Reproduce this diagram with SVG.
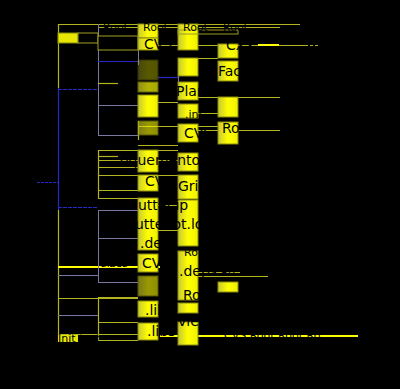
<svg xmlns="http://www.w3.org/2000/svg" width="400" height="389" viewBox="0 0 400 389">
<defs>
<linearGradient id="yg" x1="0" y1="0" x2="1" y2="0"><stop offset="0" stop-color="#c8c832"/><stop offset="0.5" stop-color="#ffff00"/><stop offset="1" stop-color="#f0f000"/></linearGradient>
<style>
.n{fill:url(#yg);stroke:#8a8a10;stroke-width:1}
.o{fill:none;stroke:#9a9a20;stroke-width:1}
.k{fill:#000;stroke:#a0a020;stroke-width:1}
.y{stroke:#b4b41e;stroke-width:1.2;fill:none}
.yb{stroke:#ffff00;stroke-width:2;fill:none}
.b{stroke:#2828c8;stroke-width:1.2;fill:none}
.g{stroke:#7878a0;stroke-width:1;fill:none}
.t{font-family:"DejaVu Sans",sans-serif;fill:#000;font-size:14px}
.s{font-family:"DejaVu Sans",sans-serif;fill:#000;font-size:11px}
</style>
</defs>
<rect width="400" height="389" fill="#000"/>
<g id="connectors">
<path class="b" d="M37 182.5H58" stroke-dasharray="3 1"/>
<path class="y" d="M58.5 24V88"/>
<path class="b" d="M58.5 88V210"/>
<path class="y" d="M58.5 210V342"/>
<path class="y" d="M58 24.5H300"/>
<path class="y" d="M98 27.5H280"/>
<path class="b" d="M58 89.5H98" stroke-dasharray="4 1"/>
<path class="b" d="M58 207.5H98" stroke-dasharray="4 1"/>
<path class="yb" d="M58 267H160"/>
<path class="g" d="M58 275.5H98"/>
<path class="y" d="M58 298.5H138"/>
<path class="g" d="M58 315.5H98"/>
<path class="y" d="M58 334.5H138"/>
<path class="g" d="M98.5 24V136"/>
<path class="y" d="M98.5 150V198"/>
<path class="g" d="M98.5 210V282"/>
<path class="y" d="M98.5 297V340"/>
<path class="b" d="M98 61.5H138"/>
<path class="y" d="M98 83.5H118"/>
<path class="g" d="M98 105.5H138"/>
<path class="g" d="M98 135.5H138"/>
<path class="y" d="M98 150.5H178"/>
<path class="y" d="M98 156.5H118"/>
<path class="y" d="M98 160.5H178"/>
<path class="y" d="M98 167.5H138"/>
<path class="y" d="M98 175.5H178"/>
<path class="y" d="M98 190.5H138"/>
<path class="y" d="M98 198.5H138"/>
<path class="g" d="M98 210.5H138"/>
<path class="g" d="M98 238.5H138"/>
<path class="g" d="M98 282.5H138"/>
<path class="y" d="M98 297.5H138"/>
<path class="y" d="M98 322.5H138"/>
<path class="y" d="M98 340.5H138"/>
<path class="g" d="M138.5 40V65"/>
<path class="y" d="M138.5 95V116"/>
<path class="y" d="M138.5 121V140"/>
<path class="y" d="M138 102.5H178"/>
<path class="y" d="M138 126.5H220"/>
<path class="y" d="M138 145.5H178"/>
<path class="y" d="M138 45.5H305"/>
<path class="y" d="M305 45.5H318" stroke-dasharray="3 2"/>
<path class="yb" d="M258 45H279"/>
<path class="b" d="M158 77.5H178"/>
<path class="y" d="M178 97.5H280"/>
<path class="y" d="M178 130.5H280"/>
<path class="y" d="M138 205.5H178"/>
<path class="y" d="M138 230.5H178"/>
<path class="y" d="M178 272.5H240"/>
<path class="y" d="M178 276.5H268"/>
<path class="yb" d="M160 336H358" stroke-width="1.5"/>
<path class="g" d="M178.5 60V90"/>
<path class="y" d="M178 113.5H218"/>
<path class="y" d="M178 58.5H218"/>
</g>
<g id="root"><rect x="58" y="33" width="20" height="10" fill="#e6e600" stroke="#8a8a10"/><rect x="78" y="33" width="20" height="10" class="k"/></g>
<g id="n-cvs1"><rect x="98" y="36" width="40" height="14" class="k"/><text class="t" x="104" y="49">CVS</text></g>
<g id="n-col3-1"><rect x="138" y="24" width="20" height="14" class="n"/><rect x="138" y="38" width="20" height="12" class="n"/><text class="t" x="144" y="49">CVS</text></g>
<g id="n-col4-1"><rect x="178" y="24" width="20" height="26" class="n"/><rect x="178" y="30" width="60" height="4" class="o"/></g>
<g id="n-root-labels"><text class="s" x="103" y="31">Root</text><text class="s" x="143" y="31">Root</text><text class="s" x="183" y="31">Root</text><text class="s" x="223" y="31">Root</text></g>
<g id="n-cxx"><rect x="218" y="44" width="20" height="14" class="n"/><text class="t" x="226" y="50">CXX</text></g>
<g id="n-fac"><rect x="218" y="61" width="20" height="20" class="n"/><text class="t" x="218" y="76">Fac</text></g>
<g id="n-c4-2"><rect x="178" y="58" width="20" height="18" class="n"/></g>
<g id="n-c3-2"><rect x="138" y="60" width="20" height="20" class="n" opacity="0.35"/></g>
<g id="n-c3-2b"><rect x="138" y="82" width="20" height="10" class="n" opacity="0.7"/></g>
<g id="n-plan"><rect x="178" y="82" width="20" height="18" class="n"/><text class="t" x="176" y="96">Plan</text></g>
<g id="n-ini"><rect x="138" y="95" width="20" height="22" class="n"/><rect x="178" y="104" width="20" height="14" class="n"/><text class="s" x="185" y="118">.ini</text></g>
<g id="n-c5-3"><rect x="218" y="97" width="20" height="20" class="n"/></g>
<g id="n-cvs3"><rect x="178" y="124" width="20" height="18" class="n"/><text class="t" x="184" y="138">CVS</text></g>
<g id="n-ro1"><rect x="218" y="122" width="20" height="22" class="n"/><text class="t" x="222" y="133">Ro</text></g>
<g id="n-c3-4"><rect x="138" y="121" width="20" height="14" class="n" opacity="0.6"/></g>
<g id="n-doc"><rect x="138" y="150" width="20" height="22" class="n"/><rect x="178" y="153" width="20" height="18" class="n"/><text class="t" x="120" y="165">oquemento</text></g>
<g id="n-cvs4"><rect x="138" y="175" width="20" height="16" class="n"/><text class="t" x="145" y="186">CVS</text></g>
<g id="n-grid"><rect x="178" y="175" width="20" height="24" class="n"/><text class="t" x="178" y="191">Grid</text></g>
<g id="n-utter"><rect x="138" y="198" width="20" height="52" class="n"/><rect x="178" y="200" width="20" height="46" class="n"/><text class="t" x="138" y="210">utter.ip</text><text class="t" x="135" y="229">utter.ot.lo</text><text class="t" x="140" y="248">.deps</text></g>
<g id="n-ro2"><rect x="178" y="251" width="20" height="49" class="n"/><text class="s" x="184" y="256">Ro</text></g>
<g id="n-sizes"><rect x="138" y="254" width="20" height="18" class="n"/><rect x="138" y="276" width="20" height="20" class="n" opacity="0.6"/><text class="s" x="101" y="267">sizes</text><text class="t" x="142" y="268">CVS</text></g>
<g id="n-deps2"><rect x="218" y="282" width="20" height="10" class="n"/><text class="t" x="179" y="276">.deps</text><text class="s" x="221" y="276">Ro</text><text class="t" x="183" y="300">Ro</text></g>
<g id="n-libs"><rect x="138" y="301" width="20" height="16" class="n"/><rect x="178" y="303" width="20" height="10" class="n"/><rect x="138" y="323" width="20" height="17" class="n"/><text class="t" x="145" y="315">.lib</text><text class="t" x="147" y="336">.libs</text></g>
<g id="n-view"><rect x="178" y="322" width="20" height="23" class="n"/><text class="t" x="178" y="326">view</text></g>
<g id="n-init"><rect x="58" y="335" width="20" height="7" fill="#e6e600"/><text class="s" x="58" y="342">Init test</text></g>
<g id="n-tail"><text class="s" x="224" y="339">CVS Root Root Ro</text></g>
</svg>
